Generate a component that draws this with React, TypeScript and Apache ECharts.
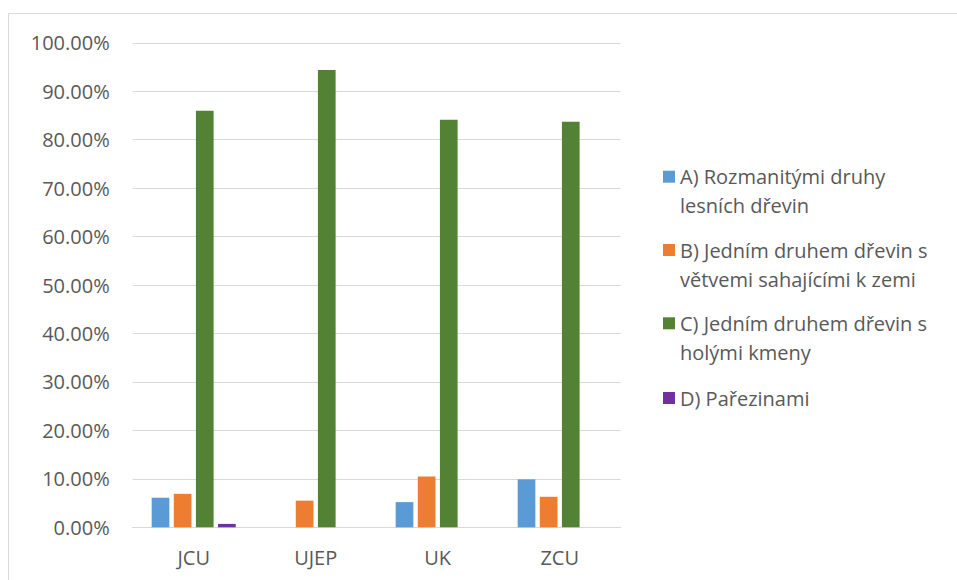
import React, { useEffect, useRef } from "react";
import * as echarts from "echarts";

const categories = ["JCU", "UJEP", "UK", "ZCU"];
const seriesNames = [
  "A) Rozmanitými druhy lesních dřevin",
  "B) Jedním druhem dřevin s větvemi sahajícími k zemi",
  "C) Jedním druhem dřevin s holými kmeny",
  "D) Pařezinami",
];
const legendLines: Record<string, string> = {
  "A) Rozmanitými druhy lesních dřevin": "A) Rozmanitými druhy\nlesních dřevin",
  "B) Jedním druhem dřevin s větvemi sahajícími k zemi": "B) Jedním druhem dřevin s\nvětvemi sahajícími k zemi",
  "C) Jedním druhem dřevin s holými kmeny": "C) Jedním druhem dřevin s\nholými kmeny",
  "D) Pařezinami": "D) Pařezinami\n ",
};
const valuesA = [0.061, 0, 0.052, 0.099];
const valuesB = [0.069, 0.055, 0.105, 0.063];
const valuesC = [0.86, 0.944, 0.841, 0.837];
const valuesD = [0.007, 0, 0, 0];
const colors = ["#5B9BD5", "#ED7D31", "#548235", "#7030A0"];
const legendCenters = [176.7, 250, 323.3, 398];

const FONT = "'Open Sans', sans-serif";

export default function App() {
  const ref = useRef<HTMLDivElement>(null);
  useEffect(() => {
    if (!ref.current) return;
    const chart = echarts.init(ref.current, null, { renderer: "svg" });
    const data = [valuesA, valuesB, valuesC, valuesD];
    const option: any = {
      animation: false,
      backgroundColor: "#ffffff",
      grid: { left: 132.7, right: 336.3, top: 42.8, bottom: 52.7, containLabel: false },
      xAxis: {
        type: "category",
        data: categories,
        axisLine: { lineStyle: { color: "#d9d9d9", width: 1 } },
        axisTick: { show: false },
        axisLabel: { color: "#595959", fontSize: 20, fontFamily: FONT, margin: 20 },
      },
      yAxis: {
        type: "value",
        min: 0,
        max: 1,
        interval: 0.1,
        axisLine: { show: false },
        axisTick: { show: false },
        splitLine: { lineStyle: { color: "#d9d9d9", width: 1 } },
        axisLabel: {
          color: "#595959",
          fontSize: 20,
          fontFamily: FONT,
          margin: 23,
          formatter: (v: number) => (v * 100).toFixed(2) + "%",
        },
      },
      legend: seriesNames.map((n, i) => ({
        data: [n],
        orient: "vertical",
        left: 663,
        top: legendCenters[i] - 43.5,
        padding: 0,
        itemWidth: 12,
        itemHeight: 12,
        icon: "rect",
        selectedMode: false,
        formatter: (name: string) => " \n" + legendLines[name],
        textStyle: { color: "#595959", fontSize: 20, fontFamily: FONT, lineHeight: 29 },
      })),
      graphic: [
        {
          type: "rect",
          shape: { x: 8.5, y: 13.5, width: 1000, height: 1000 },
          style: { fill: "none", stroke: "#d9d9d9", lineWidth: 1 },
          silent: true,
          z: -1,
        },
      ],
      series: seriesNames.map((n, i) => ({
        name: n,
        type: "bar",
        data: data[i],
        barWidth: 17.7,
        barGap: "25%",
        itemStyle: { color: colors[i] },
      })),
    };
    chart.setOption(option);
    return () => chart.dispose();
  }, []);
  return (
    <div
      ref={ref}
      style={{ position: "fixed", left: 0, top: 0, width: 957, height: 580 }}
    />
  );
}
